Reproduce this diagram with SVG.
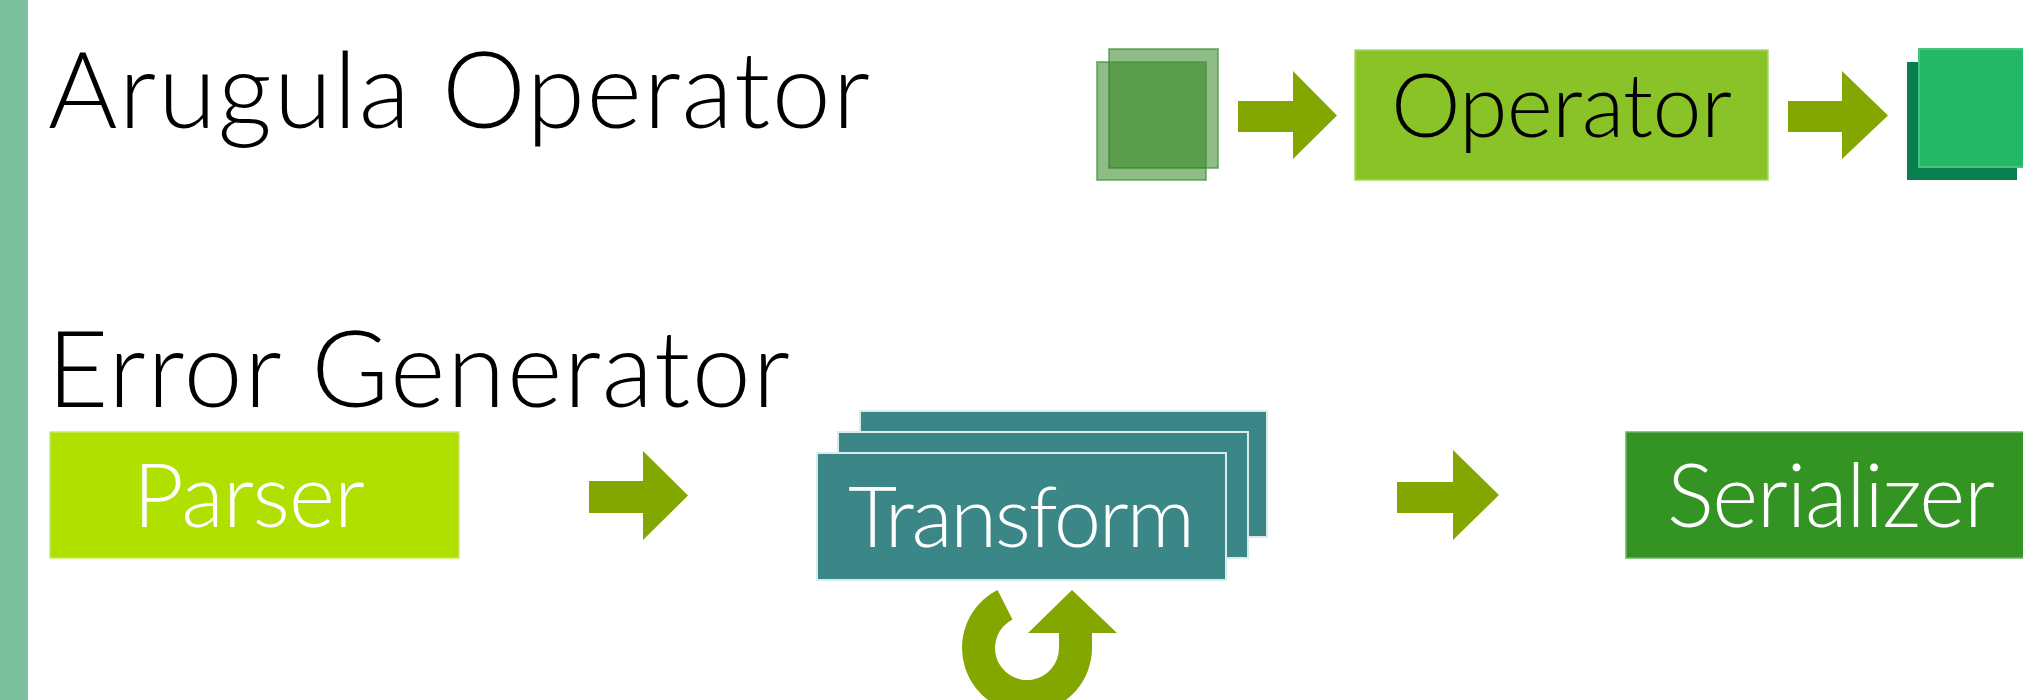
<svg xmlns="http://www.w3.org/2000/svg" width="2023" height="700" viewBox="0 0 2023 700">
<style>
.title{font-family:Lato,"Liberation Sans",sans-serif;font-weight:300;font-size:106px;fill:#000}
.lbl{font-family:Lato,"Liberation Sans",sans-serif;font-weight:300;font-size:88px;text-anchor:middle}
.arrow{fill:#84a700}
.tf{fill:#3b8686;stroke:#d8ecec;stroke-width:2}
.doc{fill:#267f16;fill-opacity:0.515;stroke:#3f8f38;stroke-opacity:0.6;stroke-width:2}
</style>
<defs>
<path id="fat-arrow" d="M0 16 H56 V-29 L101 0 L56 44 V47 V16 Z"/>
</defs>
<rect x="0" y="0" width="28" height="700" fill="#7dc0a0"/>
<g id="title-arugula"><text class="title" x="48" y="128" textLength="822">Arugula Operator</text></g>
<g id="title-error"><text class="title" x="47" y="407" textLength="743">Error Generator</text></g>

<g id="input-docs">
<rect class="doc" x="1109" y="49" width="109" height="119"/>
<rect class="doc" x="1097" y="62" width="109" height="118"/>
</g>
<g id="operator">
<rect x="1355" y="50" width="413" height="130" fill="#8ac328" stroke="#a9d664" stroke-width="1.5"/>
<text class="lbl" x="1561.5" y="137" textLength="341" fill="#000">Operator</text>
</g>
<g id="output-docs">
<rect x="1907" y="62" width="110" height="118" fill="#077f4f"/>
<rect x="1919" y="49" width="110" height="118" fill="#22b866" stroke="#46c581" stroke-width="2"/>
</g>

<g id="parser">
<rect x="50" y="432" width="409" height="126" fill="#b0e000" stroke="#c8ec60" stroke-width="1.5"/>
<text class="lbl" x="249" y="527" textLength="232" fill="#fff">Parser</text>
</g>
<g id="transform">
<rect class="tf" x="860" y="411" width="407" height="126"/>
<rect class="tf" x="838" y="432" width="410" height="126"/>
<rect class="tf" x="817" y="453" width="409" height="127"/>
<text class="lbl" x="1021.5" y="547" textLength="347" fill="#fff" style="font-size:85px">Transform</text>
</g>
<g id="serializer">
<rect x="1626" y="432" width="410" height="126" fill="#339424" stroke="#6db263" stroke-width="1.5"/>
<text class="lbl" x="1831" y="527" textLength="328" fill="#fff">Serializer</text>
</g>

<g id="connectors">
<path class="arrow" d="M1238 101 H1293 V71 L1337 115.5 L1293 159 V132 H1238 Z"/>
<path class="arrow" d="M1788 101 H1842 V71 L1888 115.5 L1842 159 V132 H1788 Z"/>
<path class="arrow" d="M589 481 H643 V451 L688 495.5 L643 540 V513 H589 Z"/>
<path class="arrow" d="M1397 482 H1453 V450 L1499 495 L1453 540 V513 H1397 Z"/>
<path class="arrow" d="M997.5 590 A65 65 0 1 0 1092 648 V633 H1117 L1072 590 L1028 633 H1059 V648 A32 32 0 1 1 1012.5 619.5 Z"/>
</g>
</svg>
